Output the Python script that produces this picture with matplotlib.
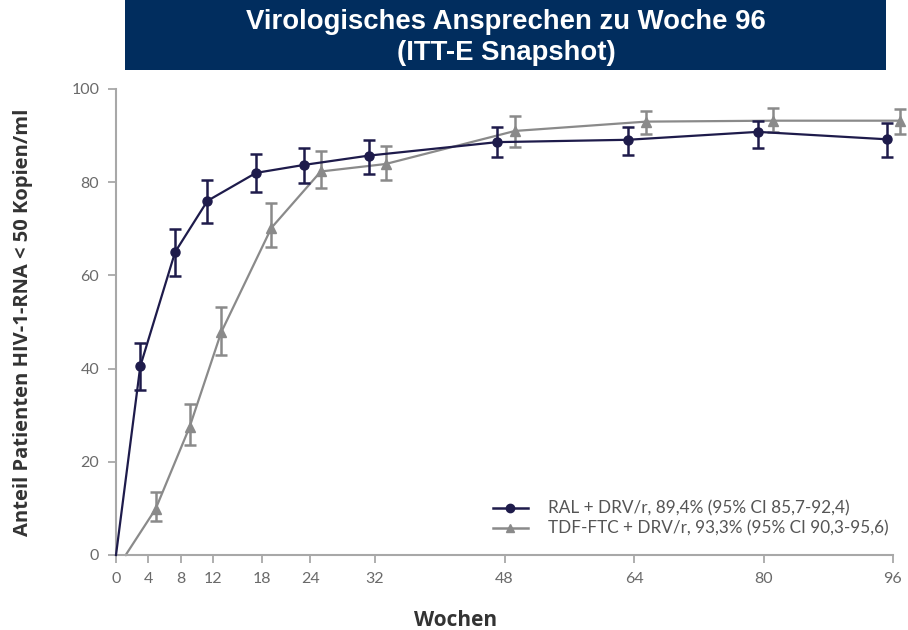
import matplotlib
matplotlib.use("Agg")
import matplotlib.pyplot as plt
from matplotlib.patches import Rectangle
from matplotlib.lines import Line2D

# ---- data ----
weeks_ticks = [0, 4, 8, 12, 18, 24, 32, 48, 64, 80, 96]
y_ticks = [0, 20, 40, 60, 80, 100]

ral_x = [0, 3.0, 7.3, 11.3, 17.3, 23.2, 31.2, 47.1, 63.2, 79.3, 95.3]
ral_y = [0, 40.5, 65.0, 76.0, 82.0, 83.7, 85.7, 88.6, 89.1, 90.8, 89.2]
ral_lo = [0, 35.5, 59.9, 71.2, 77.9, 79.8, 81.8, 85.5, 85.8, 87.3, 85.5]
ral_hi = [0, 45.4, 70.0, 80.4, 86.0, 87.4, 89.1, 91.9, 91.8, 93.2, 92.6]

tdf_x = [1.2, 4.9, 9.1, 13.0, 19.2, 25.3, 33.3, 49.3, 65.5, 81.2, 96.9]
tdf_y = [0, 9.9, 27.5, 47.8, 70.2, 82.3, 83.9, 91.0, 93.0, 93.2, 93.2]
tdf_lo = [0, 7.3, 23.7, 42.9, 66.2, 78.8, 80.5, 87.5, 90.3, 90.7, 90.3]
tdf_hi = [0, 13.5, 32.5, 53.2, 75.5, 86.7, 87.8, 94.1, 95.3, 95.9, 95.8]

label_ral = "RAL + DRV/r, 89,4% (95% CI 85,7-92,4)"
label_tdf = "TDF-FTC + DRV/r, 93,3% (95% CI 90,3-95,6)"
title1 = "Virologisches Ansprechen zu Woche 96"
title2 = "(ITT-E Snapshot)"
xlabel = "Wochen"
ylabel = "Anteil Patienten HIV-1-RNA < 50 Kopien/ml"

NAVY = "#1e1b4b"
GRAY = "#8a8a8a"
AXC = "#a8a8a8"
W, H = 908, 630
X0, X1, Y0, Y1 = 116, 893, 555, 89

fig = plt.figure(figsize=(W / 100, H / 100), dpi=100)
ax = fig.add_axes([X0 / W, 1 - Y0 / H, (X1 - X0) / W, (Y0 - Y1) / H])

def err(y, lo, hi):
    return [[a - b for a, b in zip(y, lo)], [c - a for a, c in zip(y, hi)]]

ax.plot(tdf_x, tdf_y, color=GRAY, lw=1.6, clip_on=False, zorder=2)
ax.errorbar(tdf_x[1:], tdf_y[1:], yerr=err(tdf_y[1:], tdf_lo[1:], tdf_hi[1:]),
            fmt="^", color=GRAY, ms=6.5, elinewidth=1.8, capsize=4, capthick=1.8,
            clip_on=False, zorder=3)
ax.plot(ral_x, ral_y, color=NAVY, lw=1.6, clip_on=False, zorder=4)
ax.errorbar(ral_x[1:], ral_y[1:], yerr=err(ral_y[1:], ral_lo[1:], ral_hi[1:]),
            fmt="o", color=NAVY, ms=6.5, elinewidth=1.8, capsize=4, capthick=1.8,
            clip_on=False, zorder=5)

ax.set_xlim(0, 96)
ax.set_ylim(0, 100)
ax.set_xticks(weeks_ticks)
ax.set_yticks(y_ticks)
for s in ["top", "right"]:
    ax.spines[s].set_visible(False)
for s in ["left", "bottom"]:
    ax.spines[s].set_color(AXC)
    ax.spines[s].set_linewidth(1.5)
ax.tick_params(axis="both", direction="out", length=6, width=1.3, color=AXC,
               labelcolor="#6a6a6a", labelsize=11.5, pad=6)
for lab in ax.get_xticklabels() + ax.get_yticklabels():
    lab.set_family("Lato")

ax.set_xlabel(xlabel, fontsize=15, fontweight="bold", color="#333333",
              family="Open Sans")
ax.xaxis.set_label_coords((456 - X0) / (X1 - X0), -(611 - Y0) / (Y0 - Y1))
ax.xaxis.label.set_va("center")
ax.xaxis.label.set_position(((456 - X0) / (X1 - X0), 0))
ax.xaxis.set_label_coords((456 - X0) / (X1 - X0), -(620 - Y0) / (Y0 - Y1))
ax.set_ylabel(ylabel, fontsize=14.5, fontweight="bold", color="#333333",
              family="Open Sans")
ax.yaxis.label.set_va("center")
ax.yaxis.set_label_coords(-(X0 - 23) / (X1 - X0), (Y0 - 322) / (Y0 - Y1))

h1 = Line2D([], [], color=NAVY, lw=1.8, marker="o", ms=6)
h2 = Line2D([], [], color=GRAY, lw=1.8, marker="^", ms=6)
leg = ax.legend([h1, h2], [label_ral, label_tdf], loc="upper left",
                bbox_to_anchor=(478 / W, 1 - 485 / H), bbox_transform=fig.transFigure,
                frameon=False, handlelength=2.0, handletextpad=1.2,
                labelspacing=0.25, prop={"family": "Lato", "size": 12.3})
for t in leg.get_texts():
    t.set_color("#555555")

fig.patches.append(Rectangle((125 / W, 1 - 70 / H), (886 - 125) / W, 70 / H,
                             transform=fig.transFigure, facecolor="#012d5e",
                             edgecolor="none", zorder=0))
fig.text(506 / W, 1 - 22 / H, title1, ha="center", va="center", color="white",
         fontsize=19.8, fontweight="bold", family="Liberation Sans")
fig.text(506 / W, 1 - 53 / H, title2, ha="center", va="center", color="white",
         fontsize=19.8, fontweight="bold", family="Liberation Sans")

fig.savefig("out.png", dpi=100)
